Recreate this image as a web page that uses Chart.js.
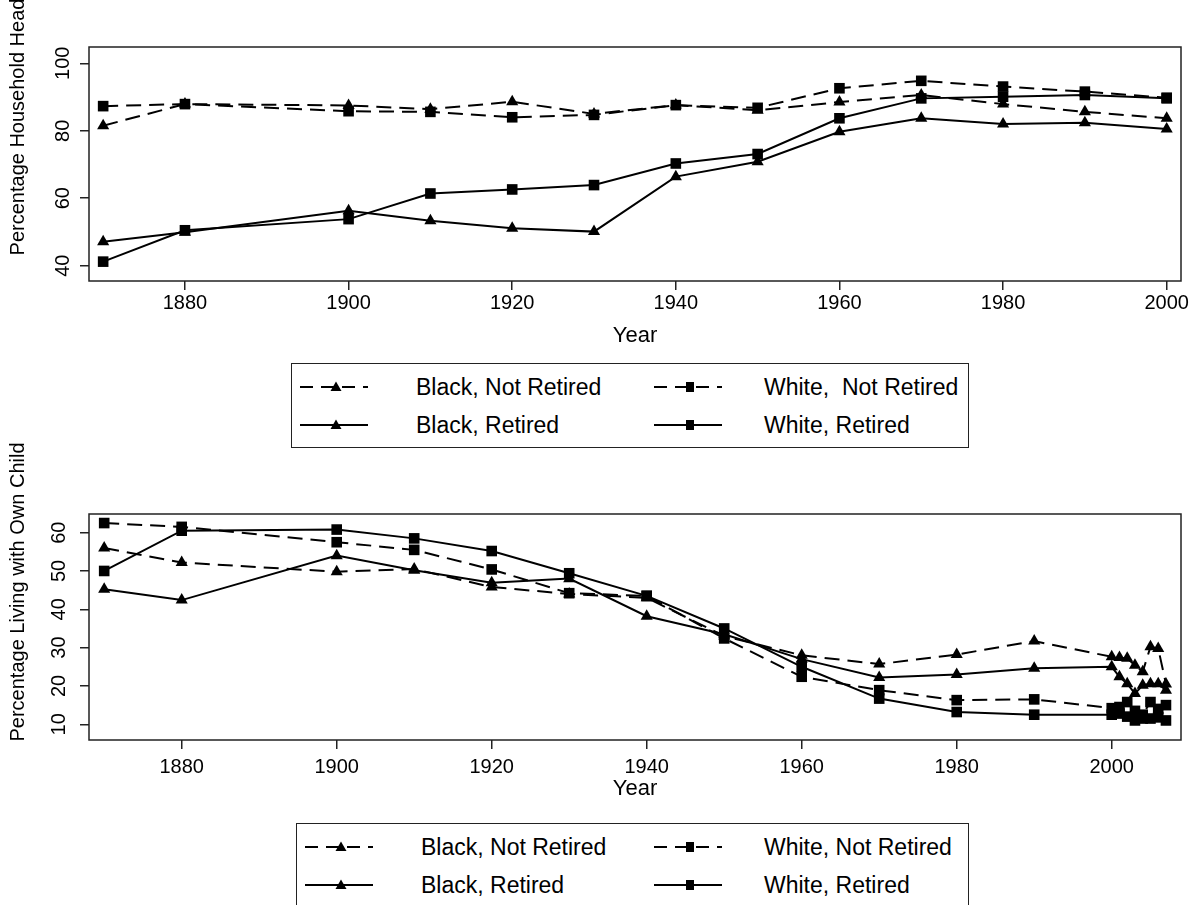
<!DOCTYPE html>
<html lang="en">
<head>
<meta charset="UTF-8">
<title>Household headship and co-residence by race and retirement</title>
<script src="https://cdn.jsdelivr.net/npm/chart.js"></script>
<style>
  body { margin: 0; width: 1200px; height: 905px; overflow: hidden; background: #fff;
         position: relative; font-family: "Liberation Sans", Arial, sans-serif; color: #000; }
  .panel { position: absolute; left: 0; }
  .legend { position: absolute; border: 1.5px solid #222; background: #fff; box-sizing: border-box; }
  .item { position: absolute; display: flex; align-items: center; height: 30px; font-size: 23px; white-space: pre; }
</style>
</head>
<body>
<div class="panel" style="top:0"><canvas id="head" width="1200" height="355"></canvas></div>
<div class="panel" style="top:420px"><canvas id="child" width="1200" height="400"></canvas></div>

<div class="legend" id="legTop" style="left:291px; top:363px; width:678px; height:85px;"></div>
<div class="legend" id="legBot" style="left:296px; top:823px; width:673px; height:110px;"></div>

<script>
// census years (top panel) and census + ACS years (bottom panel)
const yearsHead = [1870, 1880, 1900, 1910, 1920, 1930, 1940, 1950, 1960, 1970, 1980, 1990, 2000];
const yearsChild = [1870, 1880, 1900, 1910, 1920, 1930, 1940, 1950, 1960, 1970, 1980, 1990, 2000,
                    2001, 2002, 2003, 2004, 2005, 2006, 2007];
const xTicksHead = [1880, 1900, 1920, 1940, 1960, 1980, 2000];
const xTicksChild = [1880, 1900, 1920, 1940, 1960, 1980, 2000];
const yTicksHead = [40, 60, 80, 100];
const yTicksChild = [10, 20, 30, 40, 50, 60];

// percentage household head
const headBlackNotRet = [81.5, 87.9, 87.5, 86.4, 88.6, 85.0, 87.6, 86.1, 88.5, 90.6, 87.9, 85.6, 83.7];
const headWhiteNotRet = [87.3, 87.9, 85.8, 85.6, 84.0, 84.7, 87.6, 86.8, 92.6, 94.8, 93.1, 91.6, 89.8];
const headBlackRet = [47.1, 49.9, 56.3, 53.3, 51.1, 50.1, 66.4, 70.8, 79.7, 83.7, 82.0, 82.4, 80.5];
const headWhiteRet = [41.2, 50.5, 53.8, 61.4, 62.6, 63.9, 70.3, 73.1, 83.7, 89.6, 90.1, 90.6, 89.6];

// percentage living with own child
const childBlackNotRet = [56.0, 52.2, 49.8, 50.5, 45.8, 44.0, 43.0, 33.0, 28.0, 25.7, 28.2, 31.7, 27.6,
                          27.4, 27.2, 25.4, 23.7, 30.2, 29.8, 20.5];
const childWhiteNotRet = [62.5, 61.5, 57.5, 55.5, 50.4, 44.2, 43.5, 32.4, 22.4, 18.9, 16.3, 16.5, 14.2,
                          14.5, 15.8, 13.5, 12.5, 15.8, 14.0, 15.0];
const childBlackRet = [45.2, 42.4, 54.0, 50.2, 46.9, 48.0, 38.2, 33.5, 27.0, 22.2, 23.0, 24.6, 25.0,
                       22.4, 20.6, 18.0, 20.2, 20.6, 20.6, 18.9];
const childWhiteRet = [50.0, 60.5, 60.8, 58.5, 55.2, 49.4, 43.5, 35.0, 25.0, 16.7, 13.2, 12.5, 12.5,
                       12.8, 12.0, 11.0, 11.5, 11.5, 11.8, 11.0];

const seriesNames = ['Black, Not Retired', 'White, Not Retired', 'Black, Retired', 'White, Retired'];

const FONT = '"Liberation Sans", Arial, sans-serif';
const DASH = [15, 8];

function ds(label, xs, ys, dashed, marker) {
  return {
    label: label,
    data: xs.map((x, i) => ({x: x, y: ys[i]})),
    borderColor: '#000',
    backgroundColor: '#000',
    borderWidth: 2,
    borderDash: dashed ? DASH : [],
    pointStyle: marker,
    pointRadius: marker === 'rect' ? 7.5 : 7,
    pointBackgroundColor: '#000',
    pointBorderColor: '#000',
    pointBorderWidth: 0,
    tension: 0,
    fill: false
  };
}

// frame round the plot plus the axis titles at fixed spots
const framePlugin = {
  id: 'frame',
  afterDraw(chart, args, o) {
    const {ctx, chartArea: a} = chart;
    ctx.save();
    ctx.strokeStyle = '#222';
    ctx.lineWidth = 1.5;
    ctx.strokeRect(a.left, a.top, a.right - a.left, a.bottom - a.top);
    ctx.fillStyle = '#000';
    ctx.textAlign = 'center';
    ctx.textBaseline = 'middle';
    ctx.font = '22px ' + FONT;
    ctx.fillText(o.xTitle, (a.left + a.right) / 2, o.xTitleY);
    ctx.font = '20px ' + FONT;
    ctx.translate(o.yTitleX, o.yTitleY);
    ctx.rotate(-Math.PI / 2);
    ctx.fillText(o.yTitle, 0, 0);
    ctx.restore();
  }
};

function makeChart(id, xs, sets, cfg) {
  return new Chart(document.getElementById(id), {
    type: 'line',
    data: {datasets: [
      ds(seriesNames[0], xs, sets[0], true, 'triangle'),
      ds(seriesNames[1], xs, sets[1], true, 'rect'),
      ds(seriesNames[2], xs, sets[2], false, 'triangle'),
      ds(seriesNames[3], xs, sets[3], false, 'rect')
    ]},
    plugins: [framePlugin],
    options: {
      responsive: false,
      animation: false,
      layout: {padding: {top: cfg.padTop, right: 19, left: 0, bottom: 0}},
      plugins: {
        legend: {display: false},
        tooltip: {enabled: false},
        frame: cfg.titles
      },
      scales: {
        x: {
          type: 'linear',
          min: cfg.xMin, max: cfg.xMax,
          afterBuildTicks: s => { s.ticks = cfg.xTicks.map(v => ({value: v})); },
          afterFit: s => { s.height = cfg.xHeight; },
          grid: {drawOnChartArea: false, drawTicks: true, tickLength: 9, color: '#222', lineWidth: 1.5},
          border: {display: false},
          ticks: {color: '#000', font: {family: FONT, size: 20}, padding: cfg.xPad, maxRotation: 0,
                  callback: v => String(v)}
        },
        y: {
          type: 'linear',
          min: cfg.yMin, max: cfg.yMax,
          afterBuildTicks: s => { s.ticks = cfg.yTicks.map(v => ({value: v})); },
          afterFit: s => { s.width = 89; },
          grid: {drawOnChartArea: false, drawTicks: true, tickLength: 9, color: '#222', lineWidth: 1.5},
          border: {display: false},
          ticks: {color: '#000', font: {family: FONT, size: 20}, padding: cfg.yPad,
                  minRotation: 90, maxRotation: 90, crossAlign: 'center',
                  callback: v => String(v)}
        }
      }
    }
  });
}

makeChart('head', yearsHead, [headBlackNotRet, headWhiteNotRet, headBlackRet, headWhiteRet], {
  padTop: 47, xHeight: 74, xPad: 1,
  xMin: 1868.27, xMax: 2001.75, yMin: 35.46, yMax: 104.83,
  xTicks: xTicksHead, yTicks: yTicksHead, yPad: 0,
  titles: {xTitle: 'Year', xTitleY: 336, yTitle: 'Percentage Household Head', yTitleX: 18, yTitleY: 127}
});

makeChart('child', yearsChild, [childBlackNotRet, childWhiteNotRet, childBlackRet, childWhiteRet], {
  padTop: 94, xHeight: 80, xPad: 6,
  xMin: 1868.04, xMax: 2008.94, yMin: 5.9, yMax: 64.86,
  xTicks: xTicksChild, yTicks: yTicksChild, yPad: 9,
  titles: {xTitle: 'Year', xTitleY: 369, yTitle: 'Percentage Living with Own Child', yTitleX: 18, yTitleY: 172}
});

// boxed two-column legends with line+marker samples
function sample(dashed, marker) {
  const line = '<line x1="0" y1="10" x2="68" y2="10" stroke="#000" stroke-width="2"' +
    (dashed ? ' stroke-dasharray="13 8"' : '') + '/>';
  const mk = marker === 'triangle'
    ? '<polygon points="36,4.5 41.5,14 30.5,14" fill="#000"/>'
    : '<rect x="32" y="5" width="8" height="10" fill="#000"/>';
  return '<svg width="70" height="20">' + line + mk + '</svg>';
}

function buildLegend(id, labels, dx) {
  const box = document.getElementById(id);
  const cells = [
    {x: 8, y: 8, gap: 46, dashed: true, marker: 'triangle', text: labels[0]},
    {x: 362 + dx, y: 8, gap: 40, dashed: true, marker: 'rect', text: labels[1]},
    {x: 8, y: 46, gap: 46, dashed: false, marker: 'triangle', text: labels[2]},
    {x: 362 + dx, y: 46, gap: 40, dashed: false, marker: 'rect', text: labels[3]}
  ];
  cells.forEach(c => {
    const d = document.createElement('div');
    d.className = 'item';
    d.style.left = c.x + 'px';
    d.style.top = c.y + 'px';
    d.innerHTML = sample(c.dashed, c.marker) + '<span style="margin-left:' + c.gap + 'px">' + c.text + '</span>';
    box.appendChild(d);
  });
}

buildLegend('legTop', ['Black, Not Retired', 'White,  Not Retired', 'Black, Retired', 'White, Retired'], 0);
buildLegend('legBot', ['Black, Not Retired', 'White, Not Retired', 'Black, Retired', 'White, Retired'], -5);
</script>
</body>
</html>
